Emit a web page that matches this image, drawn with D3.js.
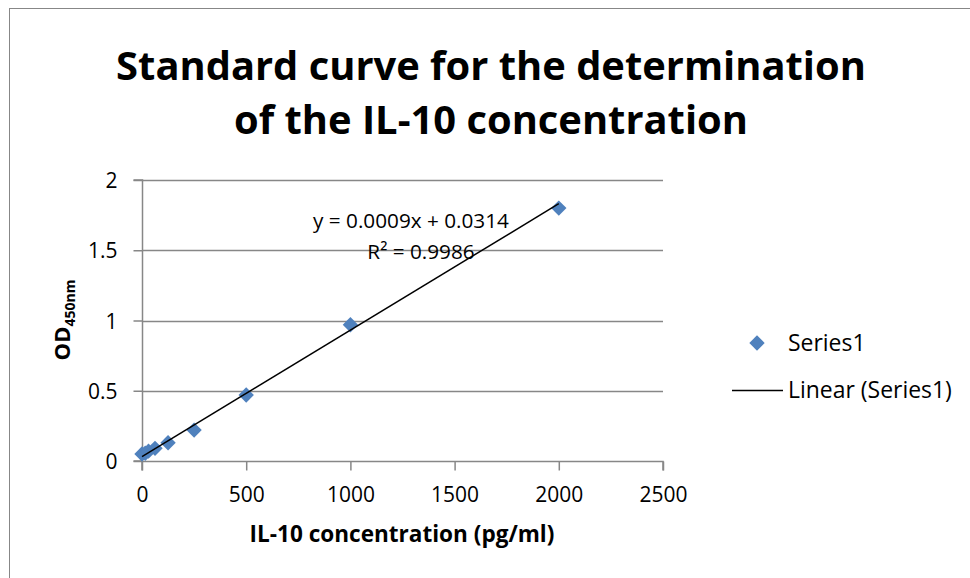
<!DOCTYPE html>
<html>
<head>
<meta charset="utf-8">
<script src="https://cdn.jsdelivr.net/npm/d3@7"></script>
<style>
  html, body { margin: 0; padding: 0; background: #fff; }
  svg { display: block; font-family: "Open Sans", Lato, sans-serif; font-variant-ligatures: none; }
</style>
</head>
<body>
<svg id="chart" width="970" height="578"></svg>
<script>
// IL-10 standards (pg/ml) and measured optical density at 450 nm
const concentrations = [0, 15.6, 31.25, 62.5, 125, 250, 500, 1000, 2000];
const odValues       = [0.05, 0.055, 0.07, 0.09, 0.13, 0.22, 0.47, 0.97, 1.80];

// Linear trendline as reported on the chart
const slope = 0.0009;
const intercept = 0.0314;
const rSquared = 0.9986;

const xTicks = [0, 500, 1000, 1500, 2000, 2500];
const yTicks = [0, 0.5, 1, 1.5, 2];

const titleLines = ["Standard curve for the determination", "of the IL-10 concentration"];
const xTitle = "IL-10 concentration (pg/ml)";
const legendLabels = ["Series1", "Linear (Series1)"];

const svg = d3.select("#chart");
const gridColor = "#878787";
const markerColor = "#4F81BD";

// scale a text element's font so it spans the given width
function fitWidth(sel, width) {
  const base = parseFloat(sel.attr("font-size"));
  const w = sel.node().getComputedTextLength();
  sel.attr("font-size", base * width / w);
  return base * width / w;
}

// Chart frame
svg.append("rect")
  .attr("x", 9.5).attr("y", 8.5)
  .attr("width", 980).attr("height", 600)
  .attr("fill", "#fff").attr("stroke", "#878787").attr("stroke-width", 1);

const plot = { left: 142, right: 663, top: 180, bottom: 461 };

const x = d3.scaleLinear().domain([0, 2500]).range([plot.left, plot.right]);
const y = d3.scaleLinear().domain([0, 2]).range([plot.bottom, plot.top]);

// Title
const title = svg.append("text")
  .attr("text-anchor", "middle")
  .attr("font-weight", "bold")
  .attr("font-size", 36)
  .attr("fill", "#000");
title.selectAll("tspan").data(titleLines).join("tspan")
  .attr("x", 491)
  .attr("y", (d, i) => 80 + i * 54)
  .text(d => d);
const t0 = title.select("tspan").node().getComputedTextLength();
title.attr("font-size", 36 * 750 / t0);

// Horizontal gridlines
svg.append("g")
  .selectAll("line")
  .data(yTicks.filter(d => d > 0))
  .join("line")
  .attr("x1", plot.left).attr("x2", plot.right)
  .attr("y1", d => Math.round(y(d)) + 0.5).attr("y2", d => Math.round(y(d)) + 0.5)
  .attr("stroke", gridColor).attr("stroke-width", 1.5);

// Axes
const xAxis = d3.axisBottom(x).tickValues(xTicks).tickSize(9).tickPadding(16).tickFormat(d3.format("d"));
const yAxis = d3.axisLeft(y).tickValues(yTicks).tickSize(9).tickPadding(16).tickFormat(d => d3.format("")(d));

const gx = svg.append("g").attr("transform", `translate(0,${plot.bottom + 0.5})`).call(xAxis);
const gy = svg.append("g").attr("transform", `translate(${plot.left + 0.5},0)`).call(yAxis);

// tick label size taken from the widest label
const probe = svg.append("text").attr("font-size", 20).text("2500");
const tickFont = fitWidth(probe, 48);
probe.remove();

[gx, gy].forEach(g => {
  g.select(".domain").attr("stroke", gridColor).attr("stroke-width", 1.5);
  g.selectAll(".tick line").attr("stroke", gridColor).attr("stroke-width", 1.5);
  g.selectAll(".tick text").attr("fill", "#000").attr("font-size", tickFont)
    .attr("font-family", "'Open Sans', Lato, sans-serif");
});
gx.select(".domain").attr("d", `M${plot.left},9V0H${plot.right}V9`);
gy.select(".domain").attr("d", `M-9,${plot.top}H0V${plot.bottom}H-9`);
gx.selectAll(".tick text").attr("dy", "0.72em");
gy.selectAll(".tick text").attr("dy", "0.36em");

// Axis titles
const xt = svg.append("text")
  .attr("x", 402).attr("y", 542)
  .attr("text-anchor", "middle")
  .attr("font-weight", "bold").attr("font-size", 20)
  .text(xTitle);
fitWidth(xt, 305);

const yTitle = svg.append("text")
  .attr("transform", "translate(70,320) rotate(-90)")
  .attr("text-anchor", "middle")
  .attr("font-weight", "bold").attr("font-size", 22);
yTitle.append("tspan").text("OD");
yTitle.append("tspan").attr("font-size", 14).attr("dy", 5).text("450nm");

// Data markers (diamonds)
const diamond = d3.symbol().type(d3.symbolDiamond2).size(150);
svg.append("g")
  .selectAll("path")
  .data(concentrations.map((c, i) => [c, odValues[i]]))
  .join("path")
  .attr("transform", d => `translate(${x(d[0])},${y(d[1])})`)
  .attr("d", diamond)
  .attr("fill", markerColor);

// Linear trendline over the data range
const xExtent = d3.extent(concentrations);
svg.append("line")
  .attr("x1", x(xExtent[0])).attr("y1", y(intercept + slope * xExtent[0]))
  .attr("x2", x(xExtent[1])).attr("y2", y(intercept + slope * xExtent[1]))
  .attr("stroke", "#000").attr("stroke-width", 1.5);

// Trendline equation
const eq1 = svg.append("text").attr("x", 411).attr("y", 228).attr("text-anchor", "middle")
  .attr("font-size", 20).text(`y = ${slope}x + ${intercept}`);
const eqFont = fitWidth(eq1, 196);
svg.append("text").attr("x", 421).attr("y", 259).attr("text-anchor", "middle")
  .attr("font-size", eqFont).text(`R² = ${rSquared}`);

// Legend
const legendFont = (() => {
  const p = svg.append("text").attr("font-size", 20).text(legendLabels[1]);
  const f = fitWidth(p, 164);
  p.remove();
  return f;
})();
const legend = svg.append("g").attr("font-size", legendFont);
legend.append("path")
  .attr("transform", "translate(757,343)")
  .attr("d", diamond)
  .attr("fill", markerColor);
legend.append("text").attr("x", 788).attr("y", 351).text(legendLabels[0]);
legend.append("line")
  .attr("x1", 732).attr("x2", 783).attr("y1", 390.5).attr("y2", 390.5)
  .attr("stroke", "#000").attr("stroke-width", 1.5);
legend.append("text").attr("x", 788).attr("y", 398).text(legendLabels[1]);
</script>
</body>
</html>
